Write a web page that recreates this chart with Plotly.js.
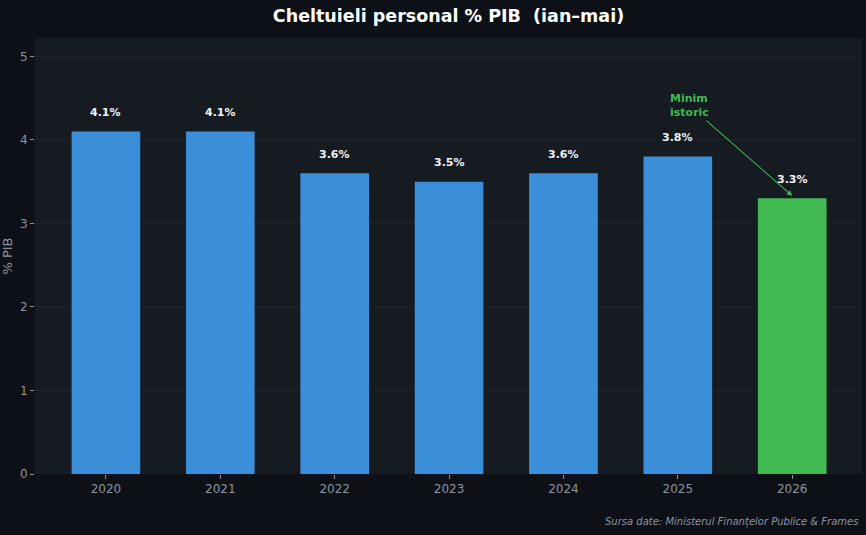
<!DOCTYPE html>
<html>
<head>
<meta charset="utf-8">
<script src="https://cdn.plot.ly/plotly-3.0.1.min.js"></script>
<style>html,body{margin:0;padding:0;background:#0d1117;}#chart{width:866px;height:535px;}</style>
</head>
<body>
<div id="chart"></div>
<script>
const years = ['2020','2021','2022','2023','2024','2025','2026'];
const values = [4.1, 4.1, 3.6, 3.5, 3.6, 3.8, 3.3];
const labels = ['4.1%','4.1%','3.6%','3.5%','3.6%','3.8%','3.3%'];
const barColors = ['#3a8fd8','#3a8fd8','#3a8fd8','#3a8fd8','#3a8fd8','#3a8fd8','#3fb950'];
const yTicks = [0,1,2,3,4,5];

const font = 'DejaVu Sans, sans-serif';

const trace = {
  type: 'bar',
  x: years,
  y: values,
  width: 0.6,
  marker: {color: barColors, line: {width: 0}},
  hoverinfo: 'skip'
};

const annotations = years.map((yr, i) => ({
  x: i, y: values[i], xref: 'x', yref: 'y',
  text: '<b>' + labels[i] + '</b>',
  showarrow: false, yshift: 19,
  font: {family: font, size: 11, color: '#f0f3f6'}
}));

annotations.push({
  x: 6, y: 3.33, xref: 'x', yref: 'y',
  ax: 5.1, ay: 4.41, axref: 'x', ayref: 'y',
  text: '<b>Minim<br>istoric</b>', align: 'left',
  showarrow: true, arrowhead: 2, arrowsize: 1, arrowwidth: 1.1,
  arrowcolor: '#3fb950', standoff: 0,
  font: {family: font, size: 11, color: '#3fb950'}
});

annotations.push({
  x: 1, y: 0, xref: 'paper', yref: 'paper',
  xanchor: 'right', yanchor: 'top', yshift: -40, xshift: -2,
  text: '<i>Sursa date: Ministerul Finanțelor Publice &amp; Frames</i>',
  showarrow: false,
  font: {family: font, size: 10, color: '#8b949e'}
});

const layout = {
  width: 866, height: 535,
  paper_bgcolor: '#0d1117',
  plot_bgcolor: '#161b22',
  margin: {l: 35, r: 4, t: 38, b: 61},
  title: {text: '<b>Cheltuieli personal % PIB  (ian–mai)</b>', xref: 'paper', x: 0.5, xanchor: 'center', y: 0.97, yanchor: 'middle',
    font: {family: font, size: 17.5, color: '#ffffff'}},
  xaxis: {
    type: 'category', range: [-0.62, 6.61],
    showgrid: false, zeroline: false, showline: false,
    ticks: 'outside', ticklen: 4, tickcolor: '#8b949e',
    tickfont: {family: font, size: 12, color: '#8b949e'}
  },
  yaxis: {
    range: [0, 5.22], tickvals: yTicks,
    showgrid: true, gridcolor: '#1e242c', gridwidth: 1,
    zeroline: false, showline: false,
    ticks: 'outside', ticklen: 4, tickcolor: '#8b949e',
    tickfont: {family: font, size: 12, color: '#8b949e'},
    title: {text: '% PIB', standoff: 8, font: {family: font, size: 13, color: '#8b949e'}}
  },
  bargap: 0.4,
  showlegend: false,
  annotations: annotations
};

Plotly.newPlot('chart', [trace], layout, {displayModeBar: false, staticPlot: true});
</script>
</body>
</html>
